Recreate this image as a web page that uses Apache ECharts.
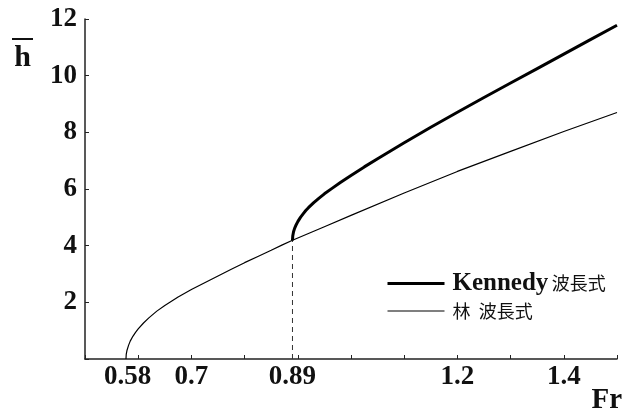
<!DOCTYPE html>
<html>
<head>
<meta charset="utf-8">
<script src="https://cdn.jsdelivr.net/npm/echarts@6/dist/echarts.min.js"></script>
<style>html,body{margin:0;padding:0;background:#fff}#c{width:630px;height:412px}</style>
</head>
<body>
<div id="c"></div>
<script>
// Data
const linX = [0.577, 0.5775, 0.578, 0.579, 0.58, 0.582, 0.585, 0.59, 0.595, 0.6, 0.61, 0.62, 0.635, 0.65, 0.675,
  0.7, 0.725, 0.75, 0.775, 0.8, 0.825, 0.85, 0.87, 0.89, 0.95, 1.0, 1.1, 1.2, 1.3, 1.4, 1.5];
const linY = [0, 0.16, 0.22, 0.31, 0.38, 0.49, 0.63, 0.80, 0.94, 1.06, 1.27, 1.45, 1.69, 1.89, 2.19,
  2.45, 2.69, 2.93, 3.17, 3.40, 3.62, 3.84, 4.02, 4.19, 4.67, 5.07, 5.86, 6.62, 7.33, 8.03, 8.70];
const kenX = [0.89, 0.8905, 0.891, 0.892, 0.894, 0.897, 0.9, 0.905, 0.91, 0.915, 0.92, 0.93, 0.94, 0.95, 0.965,
  0.98, 1.0, 1.025, 1.05, 1.075, 1.1, 1.15, 1.2, 1.25, 1.3, 1.35, 1.4, 1.45, 1.5];
const kenY = [4.19, 4.34, 4.40, 4.49, 4.61, 4.74, 4.85, 5.0, 5.12, 5.24, 5.34, 5.52, 5.68, 5.83, 6.03,
  6.23, 6.48, 6.78, 7.07, 7.35, 7.63, 8.18, 8.71, 9.23, 9.74, 10.25, 10.76, 11.27, 11.78];
const seriesNames = ['Kennedy 波長式', '林 波長式'];
const xTickValues = [0.5, 0.6, 0.7, 0.8, 0.9, 1.0, 1.1, 1.2, 1.3, 1.4, 1.5];
const xLabelValues = [0.58, 0.7, 0.89, 1.2, 1.4];
const yMin = 0, yMax = 12, yStep = 2;
const xName = 'Fr';
const yName = 'h';

const zip = (a, b) => a.map((v, i) => [v, b[i]]);
const serif = '"Liberation Serif", "DejaVu Serif", serif';
const cjk = '"Noto Sans CJK JP", "Noto Sans CJK SC", sans-serif';
const thickW = 3, thinW = 1.2;

const chart = echarts.init(document.getElementById('c'), null, {renderer: 'canvas'});
chart.setOption({
  animation: false,
  backgroundColor: '#fff',
  grid: {left: 85, right: 13, top: 19, bottom: 53, containLabel: false, outerBoundsMode: 'none'},
  xAxis: {
    type: 'value', min: 0.5, max: 1.5, interval: 0.1,
    name: xName, nameLocation: 'end', nameGap: 5,
    nameTextStyle: {fontFamily: serif, fontWeight: 'bold', fontSize: 29, color: '#111',
      align: 'right', verticalAlign: 'top', padding: [27, 0, 0, 0]},
    axisLine: {lineStyle: {color: '#222', width: 1.5}},
    axisTick: {inside: true, length: 4, customValues: xTickValues, lineStyle: {color: '#222', width: 1}},
    axisLabel: {customValues: xLabelValues, formatter: v => String(v), margin: 5,
      fontFamily: serif, fontWeight: 'bold', fontSize: 27, color: '#111'},
    splitLine: {show: false}
  },
  yAxis: {
    type: 'value', min: yMin, max: yMax, interval: yStep,
    name: '{o| }\n{h|' + yName + '}', nameLocation: 'end', nameGap: -19,
    nameTextStyle: {align: 'right', verticalAlign: 'top', padding: [0, 52, 0, 0],
      rich: {
        o: {width: 21, height: 2, lineHeight: 2, fontSize: 2, backgroundColor: '#111', align: 'center'},
        h: {fontFamily: serif, fontWeight: 'bold', fontSize: 30, lineHeight: 36, color: '#111', align: 'center'}
      }},
    axisLine: {show: true, lineStyle: {color: '#222', width: 1.5}},
    axisTick: {show: true, inside: true, length: 4, lineStyle: {color: '#222', width: 1}},
    axisLabel: {formatter: v => (v === 0 ? '' : String(v)), margin: 8,
      fontFamily: serif, fontWeight: 'bold', fontSize: 27, color: '#111'},
    splitLine: {show: false}
  },
  legend: {
    data: [
      {name: seriesNames[0], lineStyle: {width: thickW, color: '#000'}},
      {name: seriesNames[1], lineStyle: {width: thinW, color: '#000'}}
    ],
    orient: 'vertical', left: 381, top: 266,
    itemWidth: 57, itemHeight: 14, itemGap: 6,
    itemStyle: {opacity: 0},
    formatter: name => {
      const parts = name.split(' ');
      return parts.map((p, i) => /[A-Za-z]/.test(p) ? '{k|' + p + '}' : (i === 0 && parts.length > 1 ? '{c1|' + p + '}' : '{c|' + p + '}')).join(' ');
    },
    textStyle: {padding: [0, 0, 0, 3], color: '#111', rich: {
      k: {fontFamily: serif, fontWeight: 'bold', fontSize: 25, lineHeight: 22, color: '#111'},
      c: {fontFamily: cjk, fontSize: 18, lineHeight: 22, color: '#111'},
      c1: {fontFamily: cjk, fontSize: 18, lineHeight: 22, color: '#111', padding: [0, 5, 0, 0]}
    }}
  },
  series: [
    {name: seriesNames[1], type: 'line', data: zip(linX, linY), symbol: 'none', smooth: false,
      lineStyle: {color: '#000', width: thinW}, itemStyle: {color: '#000'}, z: 2},
    {name: seriesNames[0], type: 'line', data: zip(kenX, kenY), symbol: 'none', smooth: false,
      lineStyle: {color: '#000', width: thickW}, itemStyle: {color: '#000'}, z: 3},
    {name: 'guide', type: 'line', data: [[kenX[0], 0], [kenX[0], kenY[0]]], symbol: 'none', silent: true,
      lineStyle: {color: '#333', width: 1, type: [5, 4]}, z: 1}
  ]
});
</script>
</body>
</html>
